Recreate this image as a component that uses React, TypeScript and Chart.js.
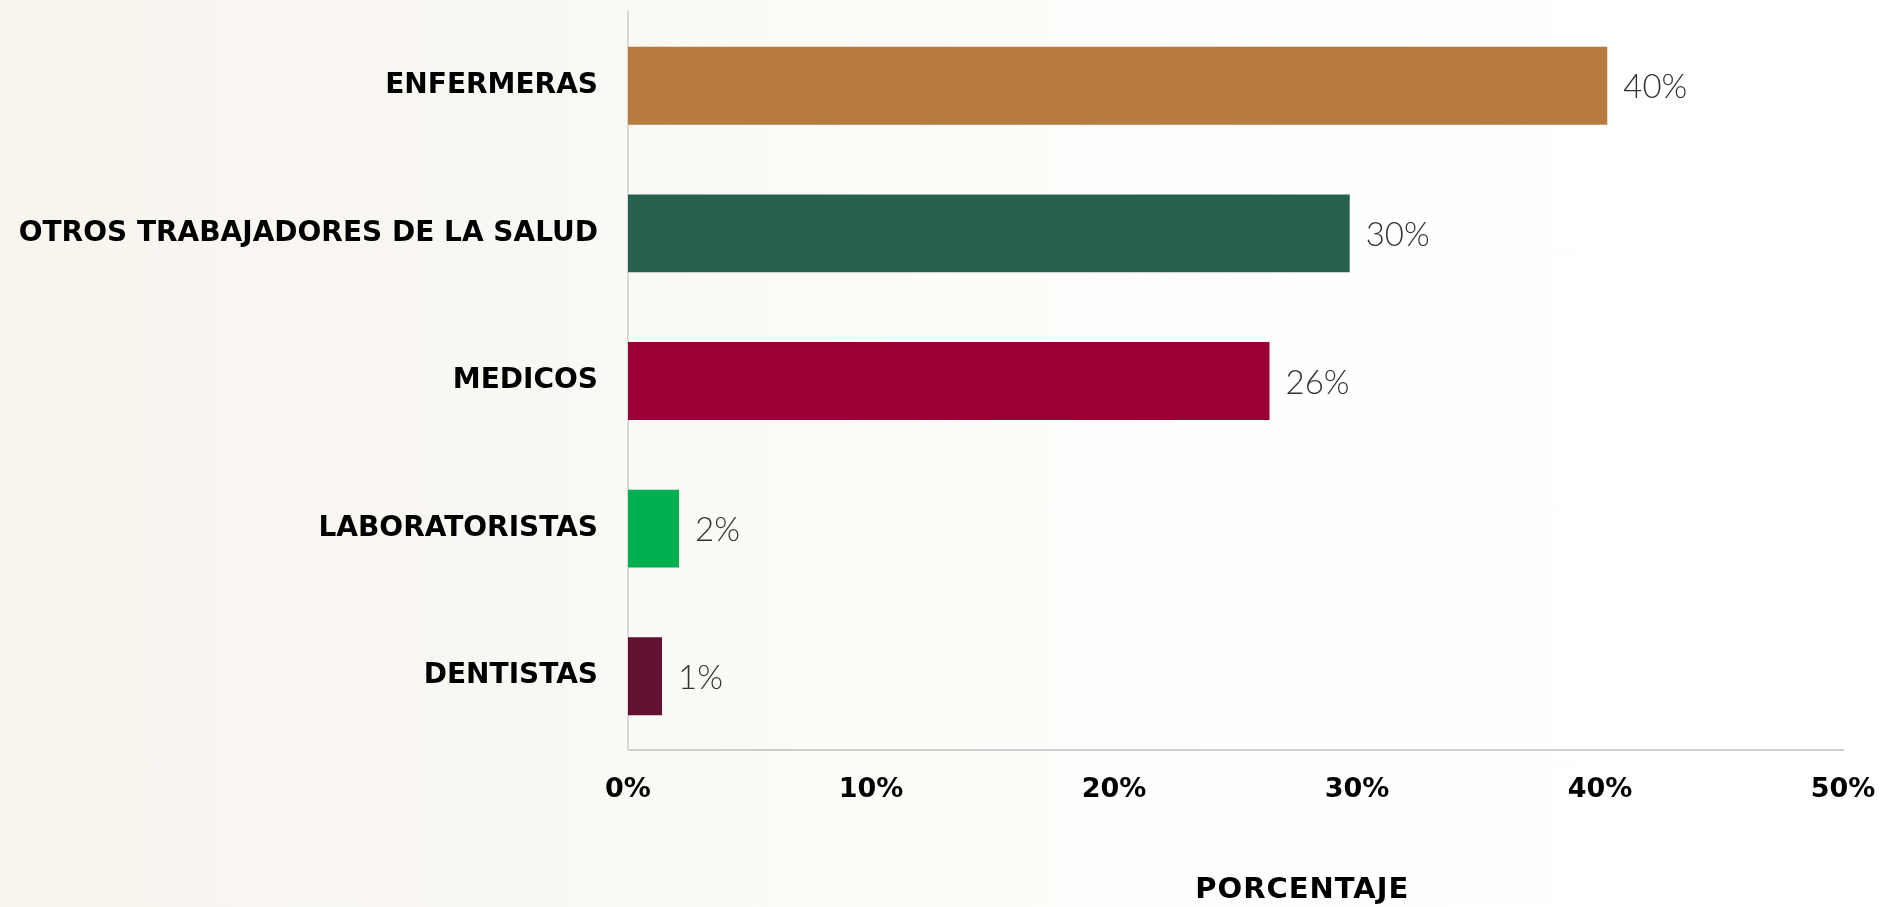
import React, { useEffect, useRef } from "react";
import { Chart, registerables } from "chart.js";

Chart.register(...registerables);

const categories = [
  "ENFERMERAS",
  "OTROS TRABAJADORES DE LA SALUD",
  "MEDICOS",
  "LABORATORISTAS",
  "DENTISTAS",
];
const values = [40.3, 29.7, 26.4, 2.1, 1.4];
const barColors = ["#B77A3F", "#285F4F", "#9A0035", "#00B050", "#621132"];
const xTickMax = 50;
const xTickStep = 10;
const axisTitle = "PORCENTAJE";

const valueLabelPlugin = {
  id: "valueLabels",
  afterDatasetsDraw(chart: any) {
    const ctx = chart.ctx;
    const meta = chart.getDatasetMeta(0);
    ctx.save();
    ctx.font = "300 33px Lato, 'DejaVu Sans', sans-serif";
    ctx.fillStyle = "#333333";
    ctx.textAlign = "left";
    ctx.textBaseline = "middle";
    meta.data.forEach((bar: any, i: number) => {
      const v = chart.data.datasets[0].data[i] as number;
      ctx.fillText(Math.round(v) + "%", bar.x + 16, bar.y + 2);
    });
    ctx.restore();
  },
};

const axisTitlePlugin = {
  id: "axisTitleOffset",
  afterDraw(chart: any) {
    const ctx = chart.ctx;
    const area = chart.chartArea;
    ctx.save();
    ctx.font = "bold 29px 'DejaVu Sans', sans-serif";
    try {
      (ctx as any).letterSpacing = "1px";
    } catch (e) {}
    ctx.fillStyle = "#000000";
    ctx.textAlign = "center";
    ctx.textBaseline = "middle";
    const x = area.left + (area.right - area.left) * 0.555;
    ctx.fillText(axisTitle, x, chart.height - 17);
    ctx.restore();
  },
};

export default function App() {
  const canvasRef = useRef<HTMLCanvasElement | null>(null);

  useEffect(() => {
    if (!canvasRef.current) return;
    const chart = new Chart(canvasRef.current, {
      type: "bar",
      data: {
        labels: categories,
        datasets: [
          {
            data: values,
            backgroundColor: barColors,
            borderWidth: 0,
            categoryPercentage: 1,
            barPercentage: 0.528,
          },
        ],
      },
      options: {
        indexAxis: "y",
        responsive: false,
        animation: false,
        layout: { padding: { top: 12, right: 40, bottom: 0, left: 0 } },
        plugins: {
          legend: { display: false },
          tooltip: { enabled: false },
        },
        scales: {
          x: {
            min: 0,
            max: xTickMax,
            grid: { display: false, drawTicks: false },
            border: { display: true, color: "#CFCFCF", width: 2 },
            ticks: {
              stepSize: xTickStep,
              padding: 24,
              color: "#000000",
              font: { family: "'DejaVu Sans', sans-serif", weight: "bold", size: 27 },
              callback: (v: any) => v + "%",
              maxRotation: 0,
            },
            afterFit: (scale: any) => {
              scale.height = 157;
              scale.paddingLeft = 0;
              scale.paddingRight = 0;
            },
          },
          y: {
            grid: { display: false, drawTicks: false },
            border: { display: true, color: "#D9D9D9", width: 2 },
            ticks: {
              padding: 30,
              color: "#000000",
              font: { family: "'DejaVu Sans', sans-serif", weight: "bold", size: 28 },
            },
            afterFit: (scale: any) => {
              scale.width = 628;
              scale.paddingTop = 0;
              scale.paddingBottom = 0;
            },
          },
        },
      },
      plugins: [valueLabelPlugin, axisTitlePlugin],
    });
    return () => chart.destroy();
  }, []);

  return (
    <div
      style={{
        position: "fixed",
        left: 0,
        top: 0,
        width: "1883px",
        height: "907px",
        background:
          "linear-gradient(to right, #F8F5EF 0%, #F9F7F2 25%, #FCFBF8 45%, #FEFEFD 70%, #FFFFFF 100%)",
      }}
    >
      <canvas ref={canvasRef} width={1883} height={907} />
    </div>
  );
}
